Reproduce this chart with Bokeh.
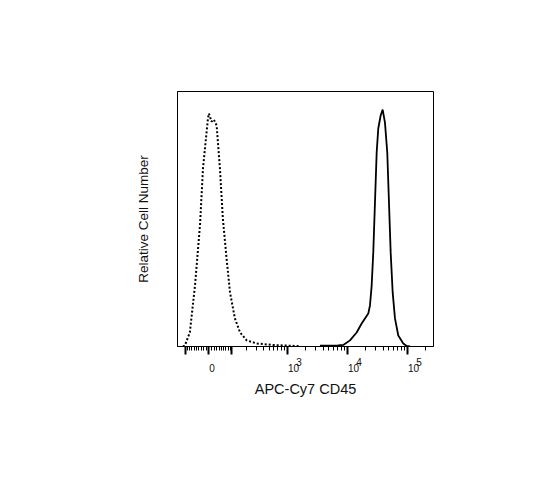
import numpy as np
from bokeh.plotting import figure
from bokeh.models import Range1d, FixedTicker, LinearAxis
from bokeh.embed import file_html
from bokeh.resources import INLINE

# unstained control (dotted trace), fluorescence vs relative count
iso_x = [-117, -106, -80, -56, -35, -23, -11.5, -3.8, 0, 10, 19, 30, 43.5,
         56, 73, 90, 117, 150, 201, 304, 579, 1118, 1642]
iso_y = [0.0, 0.4, 5.5, 23.9, 47.5, 69.8, 81.6, 89.4, 91.4, 88.2, 89.0, 86.7,
         69.8, 50.2, 34.5, 21.2, 11.0, 5.5, 2.4, 1.2, 0.6, 0.3, 0.1]

# APC-Cy7 CD45 stained (solid trace)
cd45_x = [3540, 5200, 7060, 8660, 11190, 14470, 17530, 19900, 22590, 24110,
          25740, 27370, 29210, 31180, 33150, 36350, 39250, 42860, 46820,
          49980, 53350, 57610, 62920, 71420, 86520, 98590, 111870]
cd45_y = [0.3, 0.3, 0.4, 0.6, 2.4, 5.5, 9.0, 11.0, 12.9, 16.1, 23.9, 36.9,
          56.5, 76.1, 85.5, 90.6, 92.9, 87.8, 76.1, 56.5, 36.9, 21.2, 11.0,
          4.3, 1.2, 0.2, 0.0]

# axis ticks (biexponential display)
major_vals = [-100, 0, 100, 1000, 10000, 100000]
minor_vals = ([-10 * m for m in range(1, 10)] + [10 * m for m in range(1, 10)]
              + [100 * m for m in range(2, 10)] + [1000 * m for m in range(2, 10)]
              + [10000 * m for m in range(2, 10)] + [200000])
label_vals = [0, 1000, 10000, 100000]
label_base = ["0", "10", "10", "10"]
exp_vals = [1000, 10000, 100000]
exp_text = ["3", "4", "5"]

x_min, x_max = -152, 275900

W = 100.0  # linear width of the arcsinh scale
DEC_PX = 60.0  # pixels per decade on screen
FONT = "Liberation Sans"


def biex(v):
    return np.arcsinh(np.asarray(v, dtype=float) / W) / np.log(10)


def label_axis(vals, texts, shifts):
    # tick-less axis used only for text, nudged right of the real ticks
    pos = [float(biex(v)) + s / DEC_PX for v, s in zip(vals, shifts)]
    ax = LinearAxis(ticker=FixedTicker(ticks=pos, minor_ticks=[]))
    ax.major_label_overrides = dict(zip(pos, texts))
    ax.major_tick_in = 0
    ax.major_tick_out = 0
    ax.minor_tick_in = 0
    ax.minor_tick_out = 0
    ax.axis_line_color = None
    ax.major_label_text_font = FONT
    ax.major_label_text_font_size = "10px"
    ax.major_label_text_color = "#111111"
    return ax


p = figure(frame_width=256, frame_height=255,
           min_border_left=177, min_border_right=90,
           min_border_top=91, min_border_bottom=110,
           x_range=Range1d(float(biex(x_min)), float(biex(x_max))),
           y_range=Range1d(0, 100),
           output_backend="svg", toolbar_location=None)

p.grid.visible = False
p.outline_line_color = "black"
p.outline_line_alpha = 1.0
p.outline_line_width = 1

# x axis: tick marks only
major_pos = [float(t) for t in biex(major_vals)]
p.xaxis.ticker = FixedTicker(ticks=major_pos,
                             minor_ticks=[float(t) for t in biex(minor_vals)])
p.xaxis.major_label_overrides = {t: "" for t in major_pos}
p.xaxis.major_label_standoff = 0
p.xaxis.major_tick_in = 0
p.xaxis.major_tick_out = 8
p.xaxis.major_tick_line_width = 2
p.xaxis.minor_tick_in = 0
p.xaxis.minor_tick_out = 4
p.xaxis.axis_line_color = "black"

# "0" / "10" labels
base_axis = label_axis(label_vals, label_base, [3, 6.5, 6.5, 6.5])
base_axis.major_label_standoff = 9
p.add_layout(base_axis, "below")

# raised exponents, pulled back up beside the "10"s, plus the title
exp_axis = label_axis(exp_vals, exp_text, [12, 12, 12])
exp_axis.major_label_standoff = -17
exp_axis.axis_label = "APC-Cy7 CD45"
exp_axis.axis_label_text_font = FONT
exp_axis.axis_label_text_font_size = "14.5px"
exp_axis.axis_label_text_font_style = "normal"
exp_axis.axis_label_text_color = "#111111"
exp_axis.axis_label_standoff = 12
p.add_layout(exp_axis, "below")

# y axis: no ticks, only the title
p.yaxis.ticker = FixedTicker(ticks=[])
p.yaxis.major_tick_out = 0
p.yaxis.minor_tick_out = 0
p.yaxis.axis_line_color = "black"
p.yaxis.axis_label = "Relative Cell Number"
p.yaxis.axis_label_text_font = FONT
p.yaxis.axis_label_text_font_size = "13.5px"
p.yaxis.axis_label_text_font_style = "normal"
p.yaxis.axis_label_text_color = "#111111"
p.yaxis.axis_label_standoff = 27

p.line(biex(iso_x), iso_y, line_color="black", line_width=2, line_dash="2 2")
p.line(biex(cd45_x), cd45_y, line_color="black", line_width=1.8)

open("out.html", "w").write(file_html(p, INLINE))
